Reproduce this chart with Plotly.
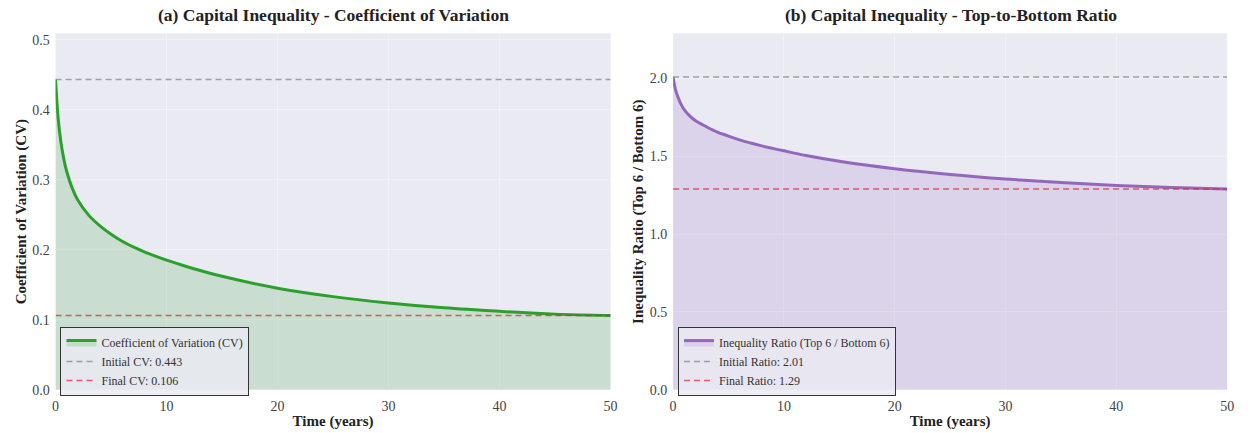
import plotly.graph_objects as go

# ---- data ----
time_years = [0, 0.25, 0.5, 0.75, 1, 1.5, 2, 3, 4, 5, 6, 7, 8, 10, 12, 15, 20, 25, 30, 35, 40, 45, 50]
cv_values = [0.443, 0.385, 0.352, 0.329, 0.312, 0.288, 0.271, 0.249, 0.234, 0.222, 0.212, 0.204,
             0.197, 0.185, 0.175, 0.162, 0.145, 0.133, 0.124, 0.117, 0.112, 0.108, 0.106]
ratio_values = [2.01, 1.92, 1.87, 1.83, 1.80, 1.76, 1.73, 1.69, 1.655, 1.63, 1.605, 1.585,
                1.567, 1.535, 1.505, 1.468, 1.420, 1.383, 1.354, 1.331, 1.313, 1.300, 1.29]
initial_cv, final_cv = 0.443, 0.106
initial_ratio, final_ratio = 2.01, 1.29
x_span = [0, 50]

W, H = 1253, 433
FONT = "Liberation Serif"
BG = "#EAEAF2"
DASH = "6px,4px"

def px_x(p):
    return p / W

def px_y(p):
    return 1 - p / H

fig = go.Figure()

# Panel (a)
fig.add_trace(go.Scatter(x=time_years, y=cv_values, mode="lines", line=dict(color="#2ca02c", width=3, shape="spline"),
                         fill="tozeroy", fillcolor="rgba(44,160,44,0.17)",
                         name="Coefficient of Variation (CV)", xaxis="x", yaxis="y", legend="legend"))
fig.add_trace(go.Scatter(x=x_span, y=[initial_cv, initial_cv], mode="lines",
                         line=dict(color="rgba(128,128,128,0.7)", width=1.5, dash=DASH),
                         name=f"Initial CV: {initial_cv:.3f}", xaxis="x", yaxis="y", legend="legend"))
fig.add_trace(go.Scatter(x=x_span, y=[final_cv, final_cv], mode="lines",
                         line=dict(color="rgba(214,39,40,0.7)", width=1.5, dash=DASH),
                         name=f"Final CV: {final_cv:.3f}", xaxis="x", yaxis="y", legend="legend"))

# Panel (b)
fig.add_trace(go.Scatter(x=time_years, y=ratio_values, mode="lines", line=dict(color="#9467bd", width=3, shape="spline"),
                         fill="tozeroy", fillcolor="rgba(148,103,189,0.17)",
                         name="Inequality Ratio (Top 6 / Bottom 6)", xaxis="x2", yaxis="y2", legend="legend2"))
fig.add_trace(go.Scatter(x=x_span, y=[initial_ratio, initial_ratio], mode="lines",
                         line=dict(color="rgba(128,128,128,0.7)", width=1.5, dash=DASH),
                         name=f"Initial Ratio: {initial_ratio:.2f}", xaxis="x2", yaxis="y2", legend="legend2"))
fig.add_trace(go.Scatter(x=x_span, y=[final_ratio, final_ratio], mode="lines",
                         line=dict(color="rgba(214,39,40,0.7)", width=1.5, dash=DASH),
                         name=f"Final Ratio: {final_ratio:.2f}", xaxis="x2", yaxis="y2", legend="legend2"))

ydom = [px_y(397), px_y(33)]
axis_common = dict(showgrid=True, gridcolor="rgba(255,255,255,0.35)", gridwidth=1, zeroline=False,
                   showline=False, tickfont=dict(family=FONT, size=14, color="#444"),
                   title_font=dict(family=FONT, size=15, color="#222"))
xtick = dict(ticks="outside", ticklen=3, tickcolor="rgba(0,0,0,0)")
ytick = dict(ticks="outside", ticklen=2, tickcolor="rgba(0,0,0,0)")

legend_common = dict(xanchor="left", yanchor="top", bgcolor="rgba(234,234,242,0.85)",
                     bordercolor="#333", borderwidth=1, font=dict(family=FONT, size=12, color="#333"),
                     tracegroupgap=0, itemwidth=30)

title_font = dict(family=FONT, size=17.5, color="#222")
ytitle_font = dict(family=FONT, size=15, color="#222")

fig.update_layout(
    width=W, height=H,
    margin=dict(l=0, r=0, t=0, b=0),
    paper_bgcolor="white", plot_bgcolor=BG,
    font=dict(family=FONT, color="#222"),
    xaxis=dict(domain=[px_x(52), px_x(612)], range=[0, 50], tickvals=[0, 10, 20, 30, 40, 50],
               anchor="y", title=dict(text="<b>Time (years)</b>", standoff=2), **axis_common, **xtick),
    yaxis=dict(domain=ydom, range=[0, 0.509], tickvals=[0, 0.1, 0.2, 0.3, 0.4, 0.5], tickformat=".1f",
               anchor="x", **axis_common, **ytick),
    xaxis2=dict(domain=[px_x(675), px_x(1234)], range=[0, 50], tickvals=[0, 10, 20, 30, 40, 50],
                anchor="y2", title=dict(text="<b>Time (years)</b>", standoff=2), **axis_common, **xtick),
    yaxis2=dict(domain=ydom, range=[0, 2.29], tickvals=[0, 0.5, 1.0, 1.5, 2.0], tickformat=".1f",
                anchor="x2", **axis_common, **ytick),
    legend=dict(x=px_x(57), y=px_y(333), **legend_common),
    legend2=dict(x=px_x(680), y=px_y(333), **legend_common),
    annotations=[
        dict(text="<b>(a) Capital Inequality - Coefficient of Variation</b>", x=px_x(332), y=px_y(14),
             xref="paper", yref="paper", showarrow=False, xanchor="center", yanchor="middle", font=title_font),
        dict(text="<b>(b) Capital Inequality - Top-to-Bottom Ratio</b>", x=px_x(955), y=px_y(14),
             xref="paper", yref="paper", showarrow=False, xanchor="center", yanchor="middle", font=title_font),
        dict(text="<b>Coefficient of Variation (CV)</b>", x=px_x(18), y=px_y(215), textangle=-90,
             xref="paper", yref="paper", showarrow=False, xanchor="center", yanchor="middle", font=ytitle_font),
        dict(text="<b>Inequality Ratio (Top 6 / Bottom 6)</b>", x=px_x(640), y=px_y(215), textangle=-90,
             xref="paper", yref="paper", showarrow=False, xanchor="center", yanchor="middle", font=ytitle_font),
    ],
)

fig.write_html("out.html")
